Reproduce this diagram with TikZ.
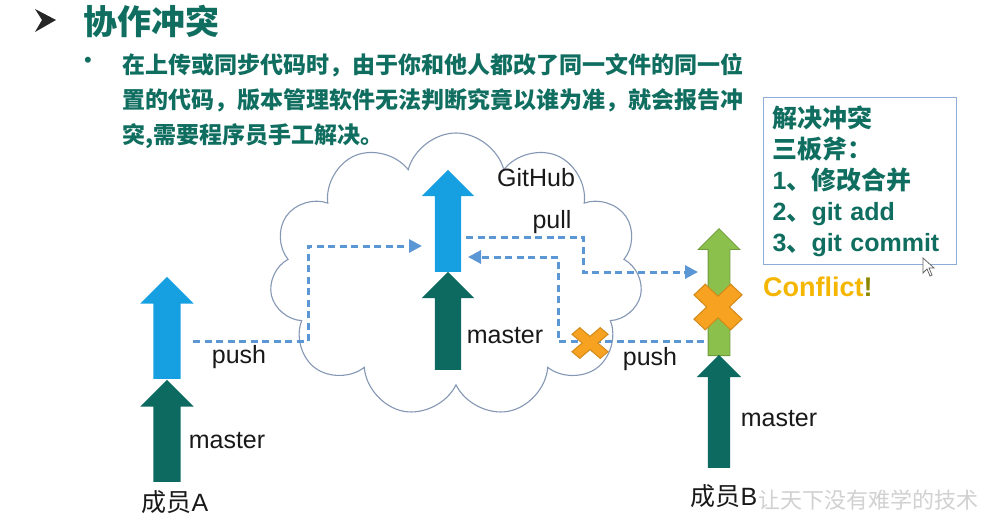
\documentclass[tikz,border=0pt]{standalone}
\usepackage{fontspec}
\setmainfont{Liberation Sans}
\newfontfamily\cjk{Noto Sans CJK SC}
\usetikzlibrary{shapes.arrows,shapes.symbols,arrows.meta}
\definecolor{deepteal}{RGB}{16,110,96}
\definecolor{branchteal}{RGB}{12,106,96}
\definecolor{commitblue}{RGB}{22,160,226}
\definecolor{commitgreen}{RGB}{140,192,76}
\definecolor{crossorange}{RGB}{247,162,32}
\definecolor{dashblue}{RGB}{91,150,213}
\definecolor{cloudgray}{RGB}{132,151,180}
\definecolor{boxblue}{RGB}{142,172,216}
\definecolor{conflictgold}{RGB}{245,182,0}
\tikzset{
  blockarrow/.style n args={5}{single arrow, rotate=90, anchor=tail, fill=#5, draw=none,
    inner xsep=0pt, inner ysep=#4, minimum height=#1, minimum width=#2,
    single arrow head extend=#3, single arrow tip angle=90},
  label/.style={font=\fontsize{25}{30}\selectfont, text=black!90},
  member/.style={font=\fontsize{25}{30}\selectfont, text=black!90},
  flow/.style={dashblue, line width=3pt, dash pattern=on 7pt off 4.5pt,
    -{Triangle[length=13pt,width=13pt]}},
  pics/crossmark/.style 2 args={code={
    \filldraw[fill=crossorange, draw=crossorange!85!black, line width=1pt, rotate=45]
      (-#2,-#1) -- (#2,-#1) -- (#2,-#2) -- (#1,-#2) -- (#1,#2) -- (#2,#2) -- (#2,#1)
      -- (-#2,#1) -- (-#2,#2) -- (-#1,#2) -- (-#1,-#2) -- (-#2,-#2) -- cycle;
  }}
}
\begin{document}
\begin{tikzpicture}[x=1pt, y=-1pt]
  \fill[white] (0,0) rectangle (1003,524);
  \useasboundingbox (0,0) rectangle (1003,524);

  \fill[black!85] (35,9) -- (56,20) -- (35,32) -- (42,20) -- cycle;
  \node[anchor=west, text=deepteal, font=\cjk\bfseries\fontsize{34}{40}\selectfont] (title) at (80,21) {协作冲突};
  \node[text=deepteal, font=\fontsize{22}{22}\selectfont] (dot) at (88,62) {•};
  \node[anchor=north west, align=left, inner sep=0pt, text=deepteal,
    font=\cjk\bfseries\fontsize{23}{35}\selectfont] (text) at (122,53)
    {在上传或同步代码时，由于你和他人都改了同一文件的同一位\\
     置的代码，版本管理软件无法判断究竟以谁为准，就会报告冲\\
     突,需要程序员手工解决。};

  \node[cloud, draw=cloudgray, line width=1.1pt, cloud puffs=11, cloud ignores aspect,
    minimum width=373pt, minimum height=284pt] (github) at (456,275) {};
  \node[label] (ghname) at (536,178) {GitHub};

  \node[blockarrow={102pt}{53pt}{13pt}{13.5pt}{commitblue}] (blueA) at (167,379) {};
  \node[blockarrow={102pt}{53pt}{13pt}{13.5pt}{branchteal}] (masterA) at (167,482) {};
  \node[blockarrow={102pt}{52pt}{13pt}{13pt}{commitblue}] (blueG) at (448,272) {};
  \node[blockarrow={98pt}{52pt}{13pt}{13pt}{branchteal}] (masterG) at (448,370) {};
  \node[blockarrow={127pt}{41pt}{10pt}{10.5pt}{commitgreen}, draw=commitgreen!80!black,
    line width=0.8pt] (greenB) at (719,356) {};
  \node[blockarrow={113pt}{44pt}{11pt}{11pt}{branchteal}] (masterB) at (719,468) {};

  \node[label] (mA) at (227,441) {master};
  \node[label] (mG) at (505,336) {master};
  \node[label] (mB) at (779,419) {master};
  \node[member] (memberA) at (175,502) {{\cjk 成员}A};
  \node[member] (memberB) at (724,496) {{\cjk 成员}B};

  \coordinate (pushA0) at (193,341);
  \coordinate (pushA1) at (422,246);
  \coordinate (pull0) at (466,237);
  \coordinate (pull1) at (698,272);
  \coordinate (pushB0) at (704,341);
  \coordinate (pushB1) at (468,257);
  \draw[flow] (pushA0) -- (308,341) |- (pushA1);
  \draw[flow] (pull0) -- (583,237) |- (pull1);
  \draw[flow] (pushB0) -- (558,341) |- (pushB1);
  \node[label] (pushAlabel) at (239,357) {push};
  \node[label] (pulllabel) at (552,222) {pull};
  \node[label] (pushBlabel) at (650,359) {push};

  \pic[yscale=0.85] at (590,343) {crossmark={20}{5.5}};
  \pic[yscale=0.95] at (718,307) {crossmark={26}{8}};

  \node[anchor=north west, draw=boxblue, line width=1.2pt, minimum width=193pt,
    minimum height=167pt, inner xsep=9pt, align=left, text width=175pt, text=deepteal,
    font=\bfseries\fontsize{25}{31}\selectfont] (fix) at (763,97)
    {{\cjk 解决冲突}\\{\cjk 三板斧：}\\1{\cjk 、修改合并}\\2{\cjk 、}git add\\3{\cjk 、}git commit};
  \node[anchor=west, inner sep=0pt, font=\bfseries\fontsize{27}{30}\selectfont] (conflict)
    at (763,287) {\textcolor{conflictgold}{Conflict}\textcolor{olive}{!}};
  \filldraw[fill=white, draw=black!60, line width=0.8pt] (923,258) -- (923,273) -- (927,269)
    -- (930,276) -- (932,275) -- (929,268) -- (934,268) -- cycle;
  \node[text=black!18, font=\cjk\fontsize{22}{22}\selectfont] (motto) at (868,500) {让天下没有难学的技术};
\end{tikzpicture}
\end{document}
